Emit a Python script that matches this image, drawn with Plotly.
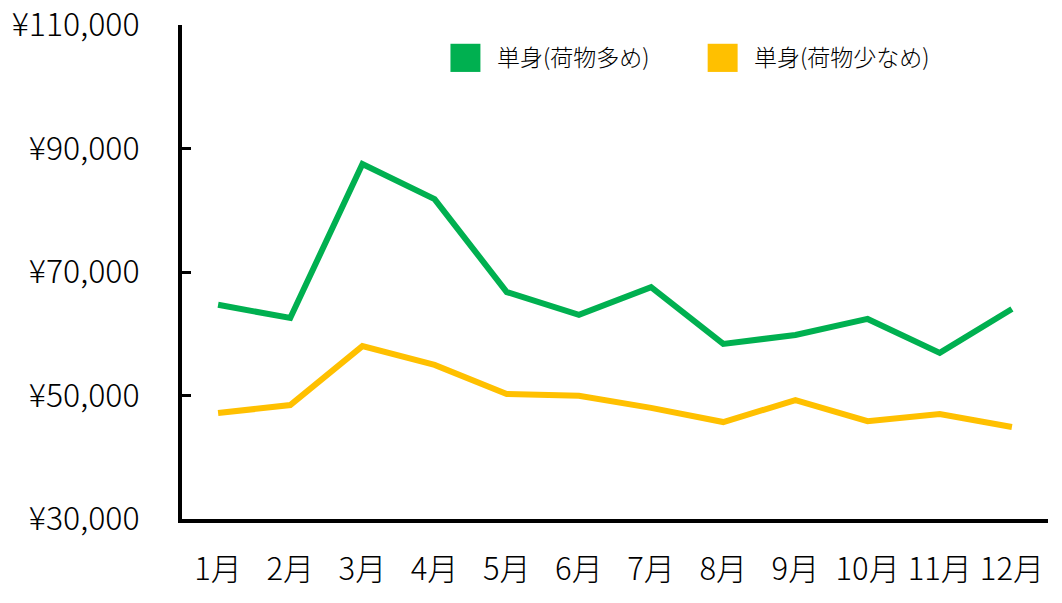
import plotly.graph_objects as go

months = ["1月", "2月", "3月", "4月", "5月", "6月", "7月", "8月", "9月", "10月", "11月", "12月"]
series_names = ["単身(荷物多め)", "単身(荷物少なめ)"]
heavy = [64700, 62550, 87500, 81800, 66750, 63050, 67550, 58350, 59800, 62400, 56900, 64000]
light = [47150, 48450, 58000, 54950, 50250, 49950, 48000, 45700, 49250, 45850, 47000, 44900]
colors = ["#00B050", "#FFC000"]
y_ticks = [30000, 50000, 70000, 90000, 110000]
y_tick_text = ["¥30,000", "¥50,000", "¥70,000", "¥90,000", "¥110,000"]

FONT = "Noto Sans CJK JP"

fig = go.Figure()
for name, vals, col in zip(series_names, [heavy, light], colors):
    fig.add_trace(go.Scatter(x=months, y=vals, mode="lines", name=name,
                             line=dict(color=col, width=6), showlegend=False))

# manual legend (squares + text) in paper coordinates
legend_x = [0.31, 0.607]
for name, col, lx in zip(series_names, colors, legend_x):
    fig.add_shape(type="rect", xref="paper", yref="paper",
                  x0=lx, x1=lx + 0.0346, y0=0.905, y1=0.962,
                  fillcolor=col, line=dict(width=0))
    fig.add_annotation(xref="paper", yref="paper", x=lx + 0.051, y=0.937,
                       text=name, showarrow=False, xanchor="left", yanchor="middle",
                       font=dict(family=FONT, size=23, color="#000000", weight=300))

fig.update_layout(
    width=1062, height=603,
    margin=dict(l=182, r=14, t=25, b=84, autoexpand=False),
    paper_bgcolor="white", plot_bgcolor="white",
    font=dict(family=FONT, color="#000000"),
    showlegend=False,
)
fig.update_xaxes(
    type="category", range=[-0.5, 11.5], automargin=False,
    showline=True, linecolor="black", linewidth=4,
    showgrid=False, zeroline=False, ticks="",
    tickfont=dict(family=FONT, size=31, color="#000000", weight=300),
    ticklabelstandoff=20, ticklabeloverflow="allow",
)
fig.update_yaxes(
    range=[30000, 110000], tickvals=y_ticks, ticktext=y_tick_text, automargin=False,
    showline=True, linecolor="black", linewidth=4,
    showgrid=False, zeroline=False,
    ticks="inside", ticklen=9, tickwidth=3, tickcolor="black",
    tickfont=dict(family=FONT, size=32, color="#000000", weight=300),
    ticklabelstandoff=32, ticklabeloverflow="allow",
)
fig.write_html("out.html", config={"displayModeBar": False},
               post_script="document.body.style.margin='0';document.body.style.overflow='hidden';")
